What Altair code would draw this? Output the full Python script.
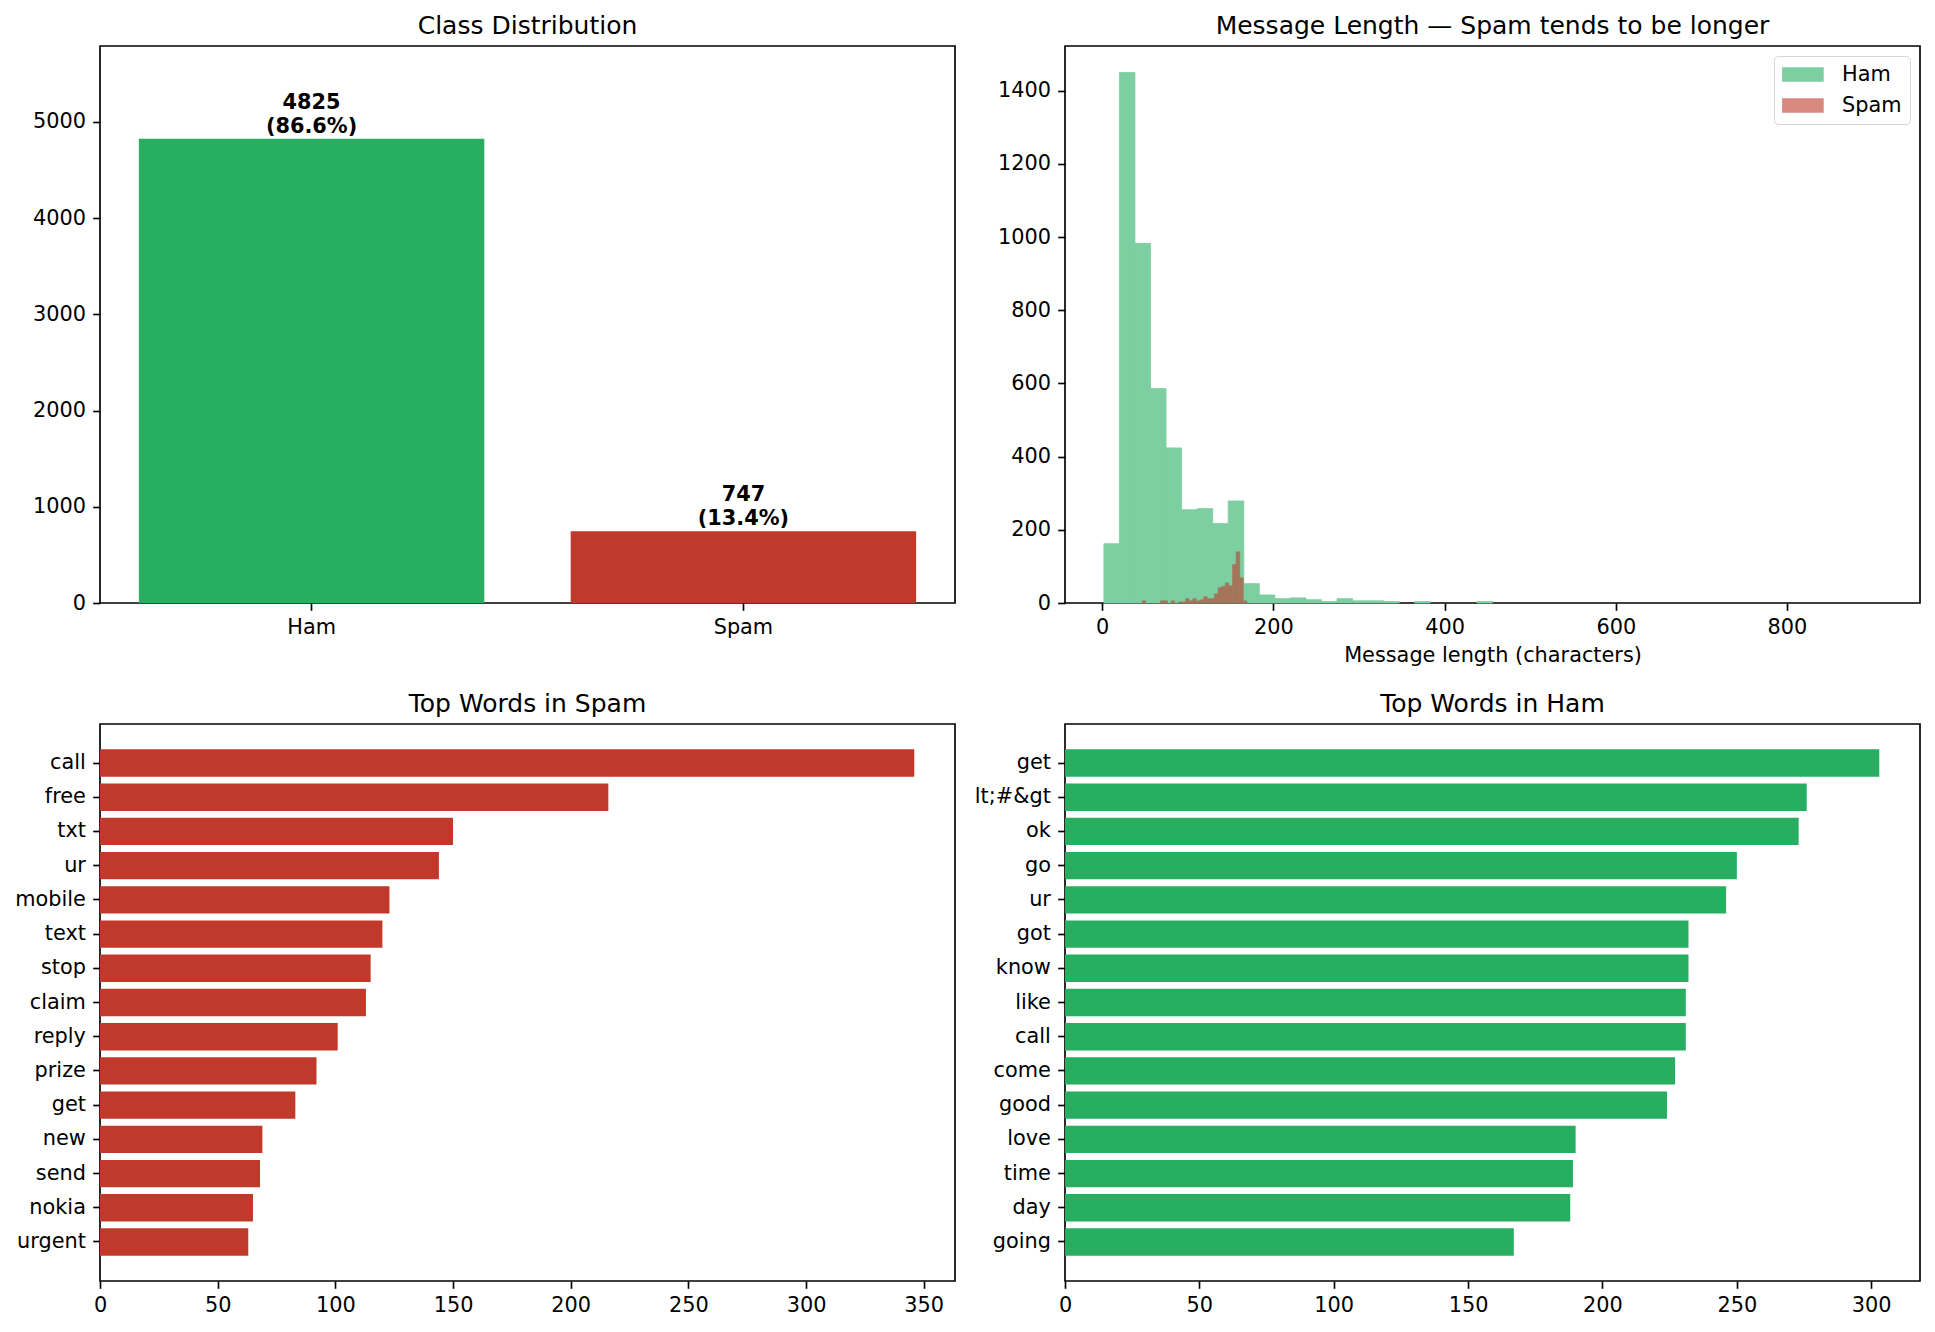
import altair as alt
import numpy as np
import pandas as pd

# ---------------- data ----------------
classes = ["Ham", "Spam"]
class_counts = [4825, 747]
class_colors = ["#27ae60", "#c0392b"]

n_bins = 50
ham_len_range = [2, 910]
spam_len_range = [13, 224]
ham_hist = [162, 1450, 983, 586, 424, 255, 258, 217, 279, 53,
            22, 12, 14, 9, 4, 12, 6, 6, 4, 0,
            4, 0, 0, 0, 4, 0, 0, 0, 0, 0,
            0, 0, 0, 0, 0, 0, 0, 0, 0, 0,
            0, 0, 0, 0, 0, 0, 0, 0, 0, 0]
spam_hist = [0, 0, 0, 0, 0, 0, 0, 0, 6, 0,
             0, 0, 0, 6, 6, 0, 6, 0, 3, 3,
             12, 6, 12, 6, 9, 17, 12, 12, 25, 42,
             45, 55, 47, 105, 140, 69, 6, 0, 0, 0,
             0, 0, 0, 0, 0, 0, 0, 0, 0, 0]

spam_words = ["call", "free", "txt", "ur", "mobile", "text", "stop", "claim",
              "reply", "prize", "get", "new", "send", "nokia", "urgent"]
spam_word_counts = [346, 216, 150, 144, 123, 120, 115, 113, 101, 92, 83, 69, 68, 65, 63]

ham_words = ["get", "lt;#&gt", "ok", "go", "ur", "got", "know", "like", "call",
             "come", "good", "love", "time", "day", "going"]
ham_word_counts = [303, 276, 273, 250, 246, 232, 232, 231, 231, 227, 224, 190, 189, 188, 167]

# ---------------- style ----------------
FONT = "DejaVu Sans"
PT = 150 / 72
TICK = 10 * PT
TITLE = 12 * PT
LW = 0.8 * PT
ALPHA = 0.6


def hex2rgb(h):
    return np.array([int(h[i:i + 2], 16) for i in (1, 3, 5)], dtype=float)


def rgb2hex(c):
    return "#" + "".join(f"{int(round(v)):02x}" for v in c)


def over(fg, bg, a=ALPHA):
    return a * fg + (1 - a) * bg


WHITE = np.array([255.0, 255.0, 255.0])
ham_rgb = over(hex2rgb(class_colors[0]), WHITE)
spam_rgb = over(hex2rgb(class_colors[1]), WHITE)
both_rgb = over(hex2rgb(class_colors[1]), ham_rgb)
ham_light, spam_light, overlap = rgb2hex(ham_rgb), rgb2hex(spam_rgb), rgb2hex(both_rgb)

# ---------------- class distribution ----------------
total = sum(class_counts)
df_cls = pd.DataFrame({
    "cls": classes,
    "n": class_counts,
    "label": [f"{n}\n({n / total * 100:.1f}%)" for n in class_counts],
})
x_cls = alt.X("cls:N", sort=classes,
              scale=alt.Scale(paddingInner=0.2, paddingOuter=0.09),
              axis=alt.Axis(labelAngle=0, title=None))
y_cls = alt.Y("n:Q", scale=alt.Scale(domain=[0, 5790], nice=False),
              axis=alt.Axis(values=[0, 1000, 2000, 3000, 4000, 5000], title=None, format="d",
                            minExtent=85, maxExtent=85))
cls_bars = alt.Chart(df_cls).mark_bar().encode(
    x=x_cls, y=y_cls,
    color=alt.Color("cls:N", scale=alt.Scale(domain=classes, range=class_colors), legend=None),
)
cls_text = alt.Chart(df_cls).mark_text(
    font=FONT, fontSize=TICK, fontWeight="bold", baseline="bottom", dy=-26,
    lineBreak="\n", lineHeight=24, color="black",
).encode(x=x_cls, y=y_cls, text="label:N")
cls_chart = alt.layer(cls_bars, cls_text).properties(width=855, height=557, title="Class Distribution")


# ---------------- histogram ----------------
def hist_frame(name, rng, counts):
    edges = np.linspace(rng[0], rng[1], n_bins + 1)
    rows = [{"cls": name, "x0": float(edges[i]), "x1": float(edges[i + 1]), "n": c, "z": 0}
            for i, c in enumerate(counts) if c > 0]
    return pd.DataFrame(rows)


df_ham = hist_frame("Ham", ham_len_range, ham_hist)
df_spam = hist_frame("Spam", spam_len_range, spam_hist)

span = ham_len_range[1] - ham_len_range[0]
x_hist = alt.X("x0:Q",
               scale=alt.Scale(domain=[ham_len_range[0] - 0.05 * span, ham_len_range[1] + 0.05 * span],
                               nice=False, zero=False),
               axis=alt.Axis(values=[0, 200, 400, 600, 800], title="Message length (characters)"))
y_hist = alt.Y("n:Q", scale=alt.Scale(domain=[0, max(ham_hist) * 1.05], nice=False),
               axis=alt.Axis(values=list(range(0, 1401, 200)), title=None, format="d",
                             minExtent=95, maxExtent=95))

ham_rects = alt.Chart(df_ham).mark_rect(stroke=ham_light, strokeWidth=0.8).encode(
    x=x_hist, x2="x1:Q", y=y_hist, y2="z:Q",
    color=alt.Color("cls:N", scale=alt.Scale(domain=classes, range=[ham_light, spam_light]),
                    legend=alt.Legend(title=None, orient="top-right", offset=10, padding=8,
                                      fillColor="white", strokeColor="#d6d6d6", cornerRadius=4,
                                      labelFont=FONT, labelFontSize=TICK, labelColor="black",
                                      symbolType="M-1,-0.7H3V0.7H-1Z", symbolSize=433,
                                      symbolStrokeWidth=0, symbolOpacity=1,
                                      labelOffset=39, rowPadding=9)),
)
spam_rects = alt.Chart(df_spam).mark_rect(color=overlap, stroke=overlap, strokeWidth=0.5).encode(
    x=x_hist, x2="x1:Q", y=y_hist, y2="z:Q",
)
hist_chart = alt.layer(ham_rects, spam_rects).properties(
    width=855, height=557, title="Message Length \u2014 Spam tends to be longer")


# ---------------- top words ----------------
def word_chart(words, counts, color, width, extent, ticks, title):
    df = pd.DataFrame({"word": words, "n": counts})
    return alt.Chart(df).mark_bar(color=color).encode(
        y=alt.Y("word:N", sort=None,
                scale=alt.Scale(paddingInner=0.2, paddingOuter=0.74),
                axis=alt.Axis(title=None, minExtent=extent, maxExtent=extent)),
        x=alt.X("n:Q", scale=alt.Scale(domain=[0, max(counts) * 1.05], nice=False),
                axis=alt.Axis(values=ticks, title=None, format="d")),
    ).properties(width=width, height=557, title=title)


spam_chart = word_chart(spam_words, spam_word_counts, class_colors[1], 855, 85,
                        [0, 50, 100, 150, 200, 250, 300, 350], "Top Words in Spam")
ham_chart = word_chart(ham_words, ham_word_counts, class_colors[0], 855, 95,
                       [0, 50, 100, 150, 200, 250, 300], "Top Words in Ham")

row1 = alt.hconcat(cls_chart, hist_chart, spacing=13).resolve_scale(color="independent")
row2 = alt.hconcat(spam_chart, ham_chart, spacing=13)

chart = alt.vconcat(row1, row2, spacing=24).resolve_scale(color="independent").properties(
    padding={"left": 13, "top": 13, "right": 5, "bottom": 5},
    background="white",
).configure_axis(
    labelFont=FONT, labelFontSize=TICK, labelColor="black",
    tickColor="black", tickWidth=LW, tickSize=7.3, labelPadding=7.3,
    domain=False, grid=False, labelFlush=False,
    titleFont=FONT, titleFontSize=TICK, titleFontWeight="normal", titleColor="black",
    titlePadding=8,
).configure_view(
    stroke="black", strokeWidth=LW,
).configure_title(
    font=FONT, fontSize=TITLE, fontWeight="normal", color="black", offset=7,
)

chart.save("out.html", embed_options={"renderer": "svg", "actions": False})
